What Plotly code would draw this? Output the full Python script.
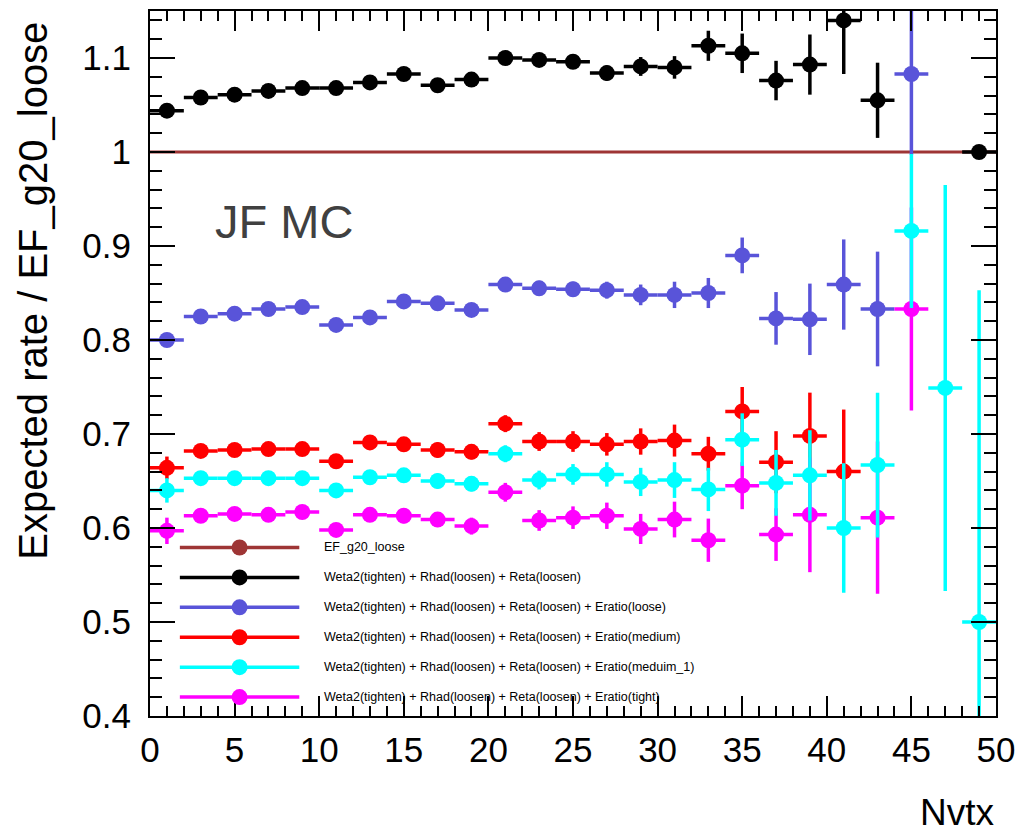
import plotly.graph_objects as go

# ---------------- data ----------------
bin_centers = [1, 3, 5, 7, 9, 11, 13, 15, 17, 19, 21, 23, 25, 27, 29, 31, 33, 35, 37, 39, 41, 43, 45, 47, 49]
bin_half_width = [1] * 25
bin_edges = [0, 2, 4, 6, 8, 10, 12, 14, 16, 18, 20, 22, 24, 26, 28, 30, 32, 34, 36, 38, 40, 42, 44, 46, 48, 50]

ef_ratio = [1.0, 1.0, 1.0, 1.0, 1.0, 1.0, 1.0, 1.0, 1.0, 1.0, 1.0, 1.0, 1.0,
            1.0, 1.0, 1.0, 1.0, 1.0, 1.0, 1.0, 1.0, 1.0, 1.0, 1.0, 1.0]

black_vals = [1.044, 1.058, 1.061, 1.065, 1.068, 1.068, 1.074, 1.083, 1.071, 1.077, 1.100, 1.098, 1.096,
              1.084, 1.091, 1.090, 1.113, 1.105, 1.076, 1.093, 1.140, 1.055, None, None, 1.000]
black_errs = [0.004, 0.003, 0.003, 0.003, 0.003, 0.004, 0.004, 0.004, 0.005, 0.005, 0.005, 0.006, 0.007,
              0.008, 0.010, 0.012, 0.016, 0.021, 0.021, 0.032, 0.057, 0.040, None, None, 0.002]

blue_vals = [0.800, 0.825, 0.828, 0.833, 0.835, 0.816, 0.824, 0.841, 0.839, 0.832, 0.859, 0.855, 0.854,
             0.853, 0.848, 0.848, 0.850, 0.890, 0.823, 0.822, 0.859, 0.833, 1.083, None, None]
blue_errs = [0.007, 0.004, 0.004, 0.004, 0.005, 0.005, 0.005, 0.006, 0.006, 0.007, 0.007, 0.008, 0.008,
             0.009, 0.011, 0.014, 0.016, 0.019, 0.028, 0.038, 0.048, 0.061, 0.086, None, None]

red_vals = [0.664, 0.682, 0.683, 0.684, 0.684, 0.671, 0.691, 0.689, 0.683, 0.681, 0.711, 0.692, 0.692,
            0.689, 0.692, 0.693, 0.679, 0.724, 0.670, 0.698, 0.660, None, None, None, None]
red_errs = [0.012, 0.005, 0.005, 0.005, 0.006, 0.006, 0.007, 0.007, 0.008, 0.008, 0.009, 0.010, 0.011,
            0.012, 0.014, 0.017, 0.018, 0.026, 0.033, 0.046, 0.066, None, None, None, None]

cyan_vals = [0.640, 0.653, 0.653, 0.653, 0.653, 0.640, 0.654, 0.656, 0.650, 0.647, 0.679, 0.651, 0.657,
             0.657, 0.649, 0.651, 0.641, 0.694, 0.648, 0.656, 0.600, 0.667, 0.916, 0.749, 0.500]
cyan_errs = [0.013, 0.005, 0.005, 0.005, 0.006, 0.006, 0.007, 0.007, 0.008, 0.008, 0.009, 0.010, 0.011,
             0.013, 0.015, 0.019, 0.023, 0.028, 0.035, 0.048, 0.069, 0.077, 0.082, 0.216, 0.353]

magenta_vals = [0.597, 0.613, 0.615, 0.614, 0.617, 0.598, 0.614, 0.613, 0.609, 0.602, 0.638, 0.608, 0.611,
                0.613, 0.599, 0.609, 0.587, 0.645, 0.593, 0.614, None, 0.611, 0.833, None, None]
magenta_errs = [0.014, 0.006, 0.006, 0.006, 0.006, 0.007, 0.007, 0.008, 0.008, 0.009, 0.010, 0.011, 0.012,
                0.014, 0.016, 0.019, 0.023, 0.025, 0.028, 0.061, None, 0.081, 0.108, None, None]

series_names = [
    "EF_g20_loose",
    "Weta2(tighten) + Rhad(loosen) + Reta(loosen)",
    "Weta2(tighten) + Rhad(loosen) + Reta(loosen) + Eratio(loose)",
    "Weta2(tighten) + Rhad(loosen) + Reta(loosen) + Eratio(medium)",
    "Weta2(tighten) + Rhad(loosen) + Reta(loosen) + Eratio(meduim_1)",
    "Weta2(tighten) + Rhad(loosen) + Reta(loosen) + Eratio(tight)",
]
series_colors = ["#9e3535", "#000000", "#5954d9", "#ff0000", "#00ffff", "#ff00ff"]

x_ticks = [0, 5, 10, 15, 20, 25, 30, 35, 40, 45, 50]
y_ticks = [0.4, 0.5, 0.6, 0.7, 0.8, 0.9, 1.0, 1.1]
y_tick_text = ["0.4", "0.5", "0.6", "0.7", "0.8", "0.9", "1", "1.1"]

# ---------------- figure ----------------
W, H = 1024, 837
ML, MR, MT, MB = 150, 24, 9, 121
PW, PH = W - ML - MR, H - MT - MB

def px_to_paper(px, py):
    return (px - ML) / PW, (H - MB - py) / PH

FONT = "Liberation Sans, Arial, Helvetica, sans-serif"

fig = go.Figure()

# reference line (ratio of EF_g20_loose to itself), drawn as a histogram step line
fig.add_trace(go.Scatter(
    x=bin_edges, y=ef_ratio + [ef_ratio[-1]], mode="lines", line_shape="hv",
    line=dict(color=series_colors[0], width=3), showlegend=False, hoverinfo="skip"))

# (values, errors, colour index) in drawing order
point_series = [
    (black_vals, black_errs, 1),
    (blue_vals, blue_errs, 2),
    (red_vals, red_errs, 3),
    (magenta_vals, magenta_errs, 5),
    (cyan_vals, cyan_errs, 4),
]
for vals, errs, ci in point_series:
    color = series_colors[ci]
    fig.add_trace(go.Scatter(
        x=bin_centers, y=vals, mode="markers",
        marker=dict(color=color, size=16, line=dict(width=0)),
        error_x=dict(type="data", array=bin_half_width, symmetric=True,
                     color=color, thickness=3.5, width=0),
        error_y=dict(type="data", array=[e if e is not None else 0 for e in errs], symmetric=True,
                     color=color, thickness=3.5, width=0),
        name=series_names[ci], showlegend=False, cliponaxis=True))

# manual legend (ROOT-style, wide line with marker)
shapes = []
annotations = []
leg_y0 = 547
leg_dy = 30
for i, (name, color) in enumerate(zip(series_names, series_colors)):
    py = leg_y0 + i * leg_dy
    x0, y0 = px_to_paper(180, py)
    x1, _ = px_to_paper(300, py)
    xm, _ = px_to_paper(240, py)
    shapes.append(dict(type="line", xref="paper", yref="paper", x0=x0, x1=x1, y0=y0, y1=y0,
                       line=dict(color=color, width=3.5)))
    shapes.append(dict(type="circle", xref="paper", yref="paper", xsizemode="pixel", ysizemode="pixel",
                       xanchor=xm, yanchor=y0, x0=-8, x1=8, y0=-8, y1=8,
                       fillcolor=color, line=dict(color=color, width=0)))
    tx, ty = px_to_paper(323, py)
    annotations.append(dict(x=tx, y=ty, xref="paper", yref="paper", text=name, showarrow=False,
                            xanchor="left", yanchor="middle",
                            font=dict(family=FONT, size=12.5, color="#000000")))

# "JF MC" label
jx, jy = px_to_paper(213, 220)
annotations.append(dict(x=jx, y=jy, xref="paper", yref="paper", text="JF MC", showarrow=False,
                        xanchor="left", yanchor="middle",
                        font=dict(family=FONT, size=47, color="#404040")))

# y-axis title
tx, ty = px_to_paper(33, 290)
annotations.append(dict(x=tx, y=ty, xref="paper", yref="paper", text="Expected rate / EF_g20_loose",
                        showarrow=False, textangle=-90, xanchor="center", yanchor="middle",
                        font=dict(family=FONT, size=40, color="#000000")))

# x-axis title
tx, ty = px_to_paper(1001, 835)
annotations.append(dict(x=tx, y=ty, xref="paper", yref="paper", text="Nvtx",
                        showarrow=False, xanchor="right", yanchor="bottom",
                        font=dict(family=FONT, size=37, color="#000000")))

fig.update_layout(
    width=W, height=H,
    margin=dict(l=ML, r=MR, t=MT, b=MB, pad=0),
    paper_bgcolor="white", plot_bgcolor="white",
    showlegend=False,
    shapes=shapes, annotations=annotations,
    xaxis=dict(range=[0, 50], tickvals=x_ticks, ticks="inside", ticklen=20, tickwidth=1.5,
               tickcolor="black", showline=True, linecolor="black", linewidth=2, mirror="allticks",
               showgrid=False, zeroline=False, ticklabeloverflow="allow",
               minor=dict(dtick=1, ticklen=10, tickwidth=1.5, ticks="inside", tickcolor="black", showgrid=False),
               tickfont=dict(family=FONT, size=35, color="black"), ticklabelstandoff=2),
    yaxis=dict(range=[0.4, 1.15], tickvals=y_ticks, ticktext=y_tick_text, ticks="inside", ticklen=25,
               tickwidth=1.5, tickcolor="black", showline=True, linecolor="black", linewidth=2,
               mirror="allticks", showgrid=False, zeroline=False,
               minor=dict(dtick=0.02, tick0=0.4, ticklen=12, tickwidth=1.5, ticks="inside", tickcolor="black",
                          showgrid=False),
               tickfont=dict(family=FONT, size=35, color="black"), ticklabelstandoff=10),
)

fig.write_html("out.html")
